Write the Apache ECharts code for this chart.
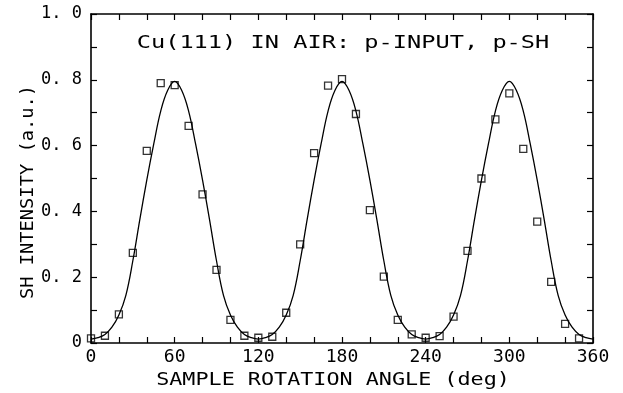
<!DOCTYPE html>
<html>
<head>
<meta charset="utf-8">
<script src="https://cdn.jsdelivr.net/npm/echarts@6/dist/echarts.min.js"></script>
<style>
  html, body { margin: 0; padding: 0; background: #fff; }
  #chart { width: 623px; height: 393px; }
</style>
</head>
<body>
<div id="chart"></div>
<script>
// measured points (open squares)
const angles = [0, 10, 20, 30, 40, 50, 60, 70, 80, 90, 100, 110,
  120, 130, 140, 150, 160, 170, 180, 190, 200, 210, 220, 230,
  240, 250, 260, 270, 280, 290, 300, 310, 320, 330, 340, 350];
const intensity = [0.014, 0.022, 0.087, 0.274, 0.584, 0.79, 0.784, 0.66, 0.452, 0.222, 0.07, 0.022,
  0.016, 0.019, 0.092, 0.30, 0.577, 0.782, 0.802, 0.696, 0.404, 0.202, 0.07, 0.026,
  0.016, 0.021, 0.08, 0.28, 0.50, 0.68, 0.759, 0.59, 0.369, 0.186, 0.058, 0.014];

// fitted curve, read every 5 deg
const fitAngles = [0, 5, 10, 15, 20, 25, 30, 35, 40, 45, 50, 55, 60, 65, 70, 75, 80, 85, 90, 95, 100, 105, 110, 115,
  120, 125, 130, 135, 140, 145, 150, 155, 160, 165, 170, 175, 180, 185, 190, 195, 200, 205, 210, 215, 220, 225, 230, 235,
  240, 245, 250, 255, 260, 265, 270, 275, 280, 285, 290, 295, 300, 305, 310, 315, 320, 325, 330, 335, 340, 345, 350, 355, 360];
const fitValues = [0.012, 0.016, 0.026, 0.048, 0.085, 0.145, 0.25, 0.375, 0.495, 0.605, 0.705, 0.768, 0.795, 0.768, 0.705, 0.605, 0.495, 0.375, 0.25, 0.145, 0.085, 0.048, 0.026, 0.016,
  0.012, 0.016, 0.026, 0.048, 0.085, 0.145, 0.25, 0.375, 0.495, 0.605, 0.705, 0.768, 0.795, 0.768, 0.705, 0.605, 0.495, 0.375, 0.25, 0.145, 0.085, 0.048, 0.026, 0.016,
  0.012, 0.016, 0.026, 0.048, 0.085, 0.145, 0.25, 0.375, 0.495, 0.605, 0.705, 0.768, 0.795, 0.768, 0.705, 0.605, 0.495, 0.375, 0.25, 0.145, 0.085, 0.048, 0.026, 0.016, 0.012];

const font = "DejaVu Sans Mono";
const ink = "#000";

const chart = echarts.init(document.getElementById("chart"));

const tickStyle = { color: ink, width: 1.2 };
const xBase = {
  type: "value", min: 0, max: 360, interval: 60,
  axisLine: { show: true, onZero: false, lineStyle: { color: ink, width: 1.6 } },
  axisTick: { show: true, inside: true, length: 6, lineStyle: tickStyle },
  minorTick: { show: true, splitNumber: 3, length: 6, lineStyle: tickStyle },
  splitLine: { show: false },
  minorSplitLine: { show: false },
};
const yBase = {
  type: "value", min: 0, max: 1, interval: 0.2,
  axisLine: { show: true, onZero: false, lineStyle: { color: ink, width: 1.6 } },
  axisTick: { show: true, inside: true, length: 6, lineStyle: tickStyle },
  minorTick: { show: true, splitNumber: 2, length: 6, lineStyle: tickStyle },
  splitLine: { show: false },
  minorSplitLine: { show: false },
};

chart.setOption({
  animation: false,
  backgroundColor: "#fff",
  grid: { left: 91, right: 30, top: 14, bottom: 50 },
  xAxis: [
    Object.assign({}, xBase, {
      position: "bottom",
      axisLabel: { color: ink, fontFamily: font, fontSize: 18, margin: 5, showMaxLabel: true, showMinLabel: true },
    }),
    Object.assign({}, xBase, { position: "top", axisLabel: { show: false } }),
  ],
  yAxis: [
    Object.assign({}, yBase, {
      position: "left",
      axisLabel: {
        color: ink, fontFamily: font, fontSize: 17, margin: 9,
        formatter: (v) => (v === 0 ? "0" : v.toFixed(1).replace(".", ". ")),
      },
    }),
    Object.assign({}, yBase, { position: "right", axisLabel: { show: false } }),
  ],
  graphic: [
    {
      type: "text", x: 343, y: 44, scaleX: 1.39,
      style: { text: "Cu(111) IN AIR: p-INPUT, p-SH", fontFamily: font, fontSize: 17, fill: ink, textAlign: "center", textVerticalAlign: "middle" },
    },
    {
      type: "text", x: 333, y: 381, scaleX: 1.28,
      style: { text: "SAMPLE ROTATION ANGLE (deg)", fontFamily: font, fontSize: 17, fill: ink, textAlign: "center", textVerticalAlign: "middle" },
    },
    {
      type: "text", x: 29, y: 192, rotation: Math.PI / 2, scaleX: 1.1,
      style: { text: "SH INTENSITY (a.u.)", fontFamily: font, fontSize: 17, fill: ink, textAlign: "center", textVerticalAlign: "middle" },
    },
  ],
  series: [
    {
      type: "line",
      data: fitAngles.map((a, i) => [a, fitValues[i]]),
      smooth: 0.4,
      symbol: "none",
      lineStyle: { color: ink, width: 1.3 },
      z: 2,
    },
    {
      type: "scatter",
      data: angles.map((a, i) => [a, intensity[i]]),
      symbol: "rect",
      symbolSize: 7,
      itemStyle: { color: "rgba(255,255,255,0)", borderColor: ink, borderWidth: 1.3 },
      z: 3,
    },
  ],
});
</script>
</body>
</html>
